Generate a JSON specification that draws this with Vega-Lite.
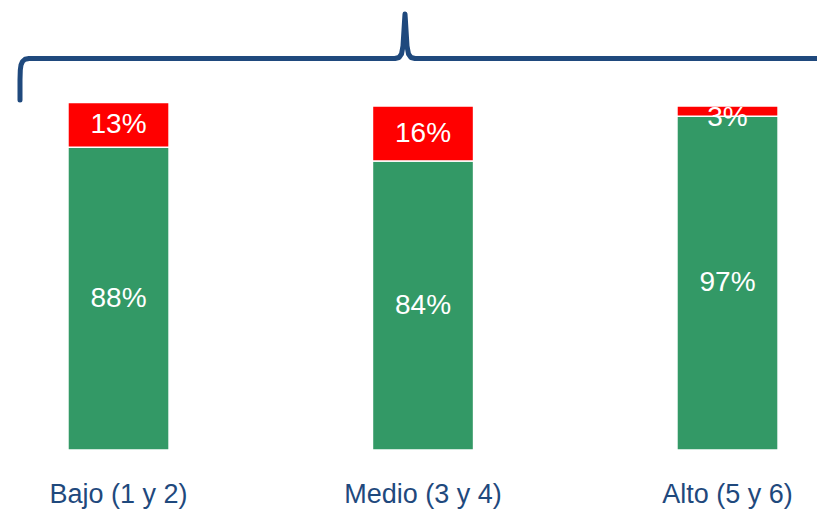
{
  "$schema": "https://vega.github.io/schema/vega-lite/v6.json",
  "width": 799,
  "height": 438,
  "autosize": {"type": "none"},
  "padding": {"left": 18, "top": 12, "right": 0, "bottom": 60},
  "background": "white",
  "config": {"view": {"stroke": null}},
  "layer": [
    {
      "data": {
        "values": [
          {"grupo": "Bajo (1 y 2)", "serie": "Sí", "orden": 1, "valor": 0.88},
          {"grupo": "Bajo (1 y 2)", "serie": "No", "orden": 2, "valor": 0.13},
          {"grupo": "Medio (3 y 4)", "serie": "Sí", "orden": 1, "valor": 0.84},
          {"grupo": "Medio (3 y 4)", "serie": "No", "orden": 2, "valor": 0.16},
          {"grupo": "Alto (5 y 6)", "serie": "Sí", "orden": 1, "valor": 0.97},
          {"grupo": "Alto (5 y 6)", "serie": "No", "orden": 2, "valor": 0.03}
        ]
      },
      "transform": [
        {"stack": "valor", "groupby": ["grupo"], "sort": [{"field": "orden", "order": "ascending"}], "as": ["y0", "y1"]},
        {"calculate": "min((datum.y0 + datum.y1) / 2, datum.y1 - 0.035)", "as": "ymid"}
      ],
      "encoding": {
        "x": {
          "field": "grupo",
          "type": "nominal",
          "sort": null,
          "scale": {"paddingInner": 0.668, "paddingOuter": 0.146, "align": 0.562},
          "axis": {
            "title": null,
            "domain": false,
            "ticks": false,
            "labelAngle": 0,
            "labelFont": "Liberation Sans",
            "labelFontSize": 27,
            "labelColor": "#1F497D",
            "labelPadding": 31
          }
        }
      },
      "layer": [
        {
          "mark": {"type": "bar", "stroke": "white", "strokeWidth": 1.5},
          "encoding": {
            "y": {"field": "y1", "type": "quantitative", "scale": {"domain": [0, 1.2733], "nice": false, "zero": true}, "axis": null},
            "y2": {"field": "y0"},
            "color": {
              "field": "serie",
              "type": "nominal",
              "scale": {"domain": ["Sí", "No"], "range": ["#339966", "#FF0000"]},
              "legend": null
            }
          }
        },
        {
          "mark": {"type": "text", "color": "white", "font": "Liberation Sans", "fontSize": 28, "align": "center", "baseline": "middle"},
          "encoding": {
            "y": {"field": "ymid", "type": "quantitative", "scale": {"domain": [0, 1.2733], "nice": false, "zero": true}, "axis": null},
            "text": {"field": "valor", "type": "quantitative", "format": ".0%"}
          }
        }
      ]
    },
    {
      "data": {
        "values": [
          {"p": 1, "bx": 2, "by": 1.0174},
          {"p": 2, "bx": 2, "by": 1.0756},
          {"p": 3, "bx": 2.3, "by": 1.1047},
          {"p": 4, "bx": 3, "by": 1.1192},
          {"p": 5, "bx": 4.5, "by": 1.1294},
          {"p": 6, "bx": 7, "by": 1.1360},
          {"p": 7, "bx": 11, "by": 1.1381},
          {"p": 8, "bx": 377, "by": 1.1381},
          {"p": 9, "bx": 381, "by": 1.1410},
          {"p": 10, "bx": 383.5, "by": 1.1512},
          {"p": 11, "bx": 385, "by": 1.1744},
          {"p": 12, "bx": 386, "by": 1.2209},
          {"p": 13, "bx": 386.8, "by": 1.2587},
          {"p": 14, "bx": 387, "by": 1.2674},
          {"p": 15, "bx": 387.2, "by": 1.2587},
          {"p": 16, "bx": 388, "by": 1.2209},
          {"p": 17, "bx": 389, "by": 1.1744},
          {"p": 18, "bx": 390.5, "by": 1.1512},
          {"p": 19, "bx": 393, "by": 1.1410},
          {"p": 20, "bx": 397, "by": 1.1381},
          {"p": 21, "bx": 799, "by": 1.1381}
        ]
      },
      "mark": {"type": "line", "color": "#1F497D", "strokeWidth": 5, "strokeCap": "round", "strokeJoin": "round", "clip": false},
      "encoding": {
        "x": {"field": "bx", "type": "quantitative", "scale": {"domain": [0, 799], "nice": false, "zero": false}, "axis": null},
        "y": {"field": "by", "type": "quantitative", "scale": {"domain": [0, 1.2733], "nice": false, "zero": true}, "axis": null},
        "order": {"field": "p", "type": "quantitative"}
      }
    }
  ],
  "resolve": {"scale": {"x": "independent"}}
}
